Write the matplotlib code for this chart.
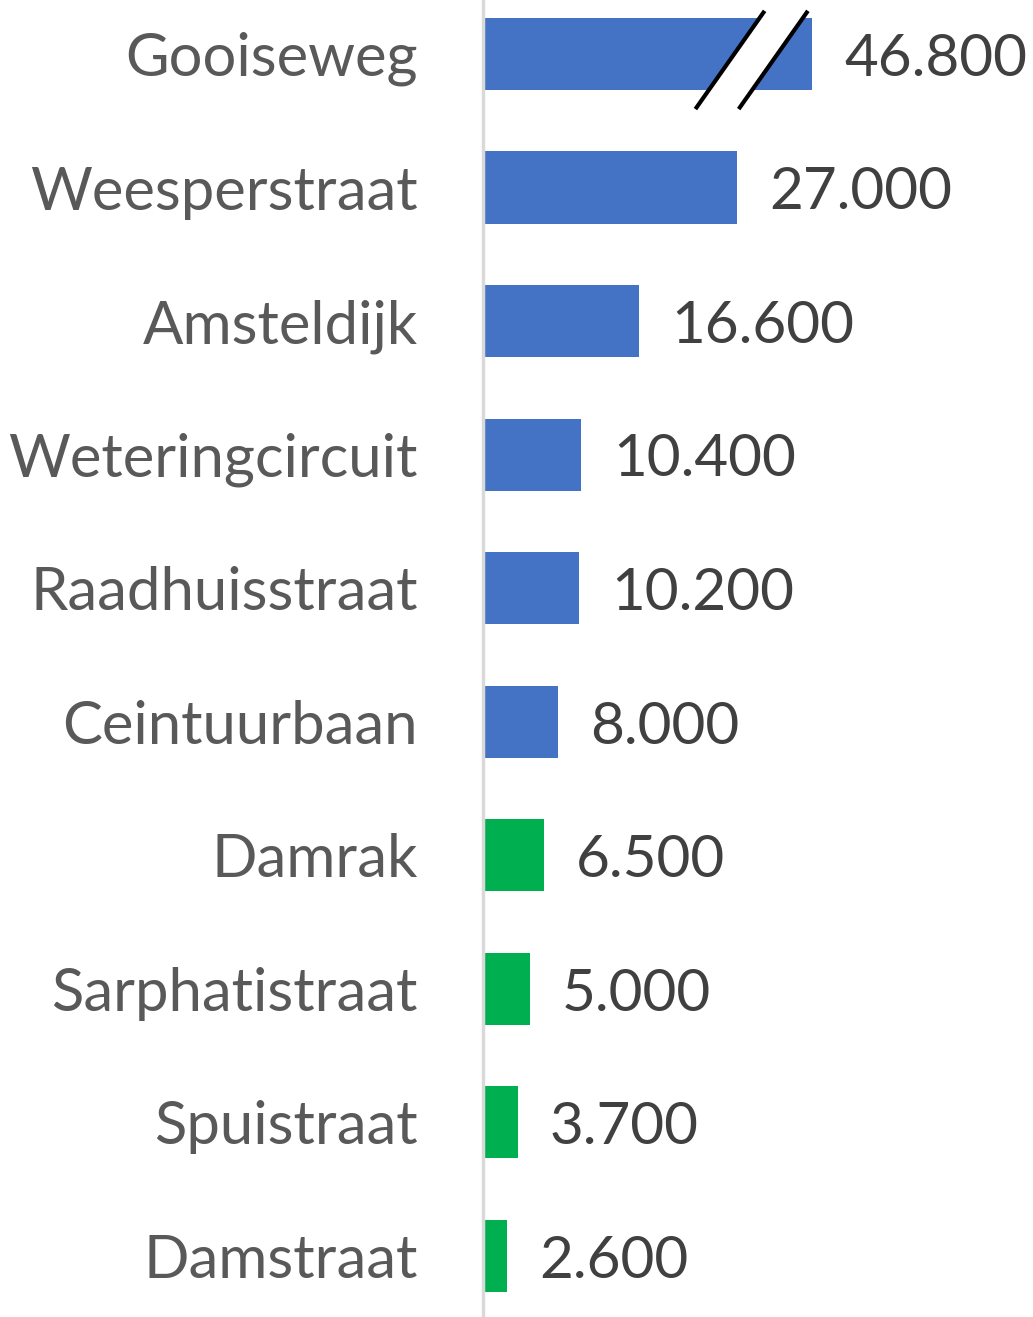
import matplotlib
matplotlib.use("Agg")
import matplotlib.pyplot as plt
from matplotlib.patches import Polygon

streets = ["Gooiseweg", "Weesperstraat", "Amsteldijk", "Weteringcircuit",
           "Raadhuisstraat", "Ceintuurbaan", "Damrak", "Sarphatistraat",
           "Spuistraat", "Damstraat"]
values = [46800, 27000, 16600, 10400, 10200, 8000, 6500, 5000, 3700, 2600]
groups = ["blue"] * 6 + ["green"] * 4
value_labels = ["46.800", "27.000", "16.600", "10.400", "10.200",
                "8.000", "6.500", "5.000", "3.700", "2.600"]

colors = {"blue": "#4472C4", "green": "#00B050"}
cap = 35000  # bars longer than this are drawn broken

plt.rcParams["font.family"] = ["Lato", "DejaVu Sans"]

fig = plt.figure(figsize=(10.33, 13.17), dpi=100)
ax = fig.add_axes([483 / 1033, 0, 1 - 483 / 1033, 1])

shown = [min(v, cap) for v in values]
ypos = list(range(len(streets)))
ax.barh(ypos, shown, height=0.54, color=[colors[g] for g in groups], zorder=2)

ax.set_xlim(0, 58450)
ax.set_ylim(9.457, -0.404)

for y, s, lab in zip(ypos, shown, value_labels):
    ax.text(s + 3400, y + 0.04, lab, va="center", ha="left", fontsize=42,
            color="#404040")

ax.set_yticks(ypos)
ax.set_yticklabels(streets, fontsize=43, color="#595959")
ax.tick_params(axis="y", length=0, pad=47)
ax.set_xticks([])

for side in ["top", "right", "bottom"]:
    ax.spines[side].set_visible(False)
ax.spines["left"].set_color("#d9d9d9")
ax.spines["left"].set_linewidth(2.5)

# break marks on the capped bar
for y, v in zip(ypos, values):
    if v > cap:
        x0, x1 = cap - 12300, cap - 5200
        dx = 4600
        ya, yb = y + 0.40, y - 0.31
        gap = Polygon([[x0, ya], [x1, yb], [x1 + dx, yb], [x0 + dx, ya]],
                      closed=True, facecolor="white", edgecolor="none",
                      zorder=3, clip_on=False)
        ax.add_patch(gap)
        ax.plot([x0, x1], [ya, yb], color="black", lw=3, zorder=4,
                clip_on=False)
        ax.plot([x0 + dx, x1 + dx], [ya, yb], color="black", lw=3, zorder=4,
                clip_on=False)

fig.savefig("out.png", dpi=100)
